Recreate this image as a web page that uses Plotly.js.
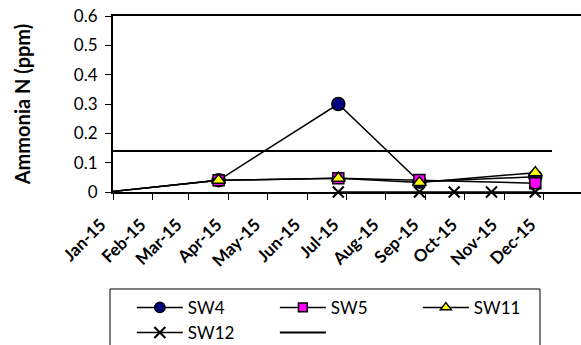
<!DOCTYPE html>
<html><head><meta charset="utf-8">
<script src="https://cdn.plot.ly/plotly-3.0.1.min.js"></script>
<style>html,body{margin:0;padding:0;overflow:hidden;background:#fff}</style>
</head><body><div id="chart" style="width:581px;height:345px"></div>
<script>
// Data
const dates_main = ['2015-01-01', '2015-03-24', '2015-06-25', '2015-08-27', '2015-11-25'];
const sw4 = [0.002, 0.04, 0.30, 0.035, 0.052];
const sw5 = [0.002, 0.04, 0.047, 0.041, 0.03];
const sw11 = [0.002, 0.04, 0.047, 0.032, 0.066];
const dates_sw12 = ['2015-06-25', '2015-08-27', '2015-09-23', '2015-10-22', '2015-11-25'];
const sw12 = [0, 0, 0, 0, 0];
const dates_limit = ['2015-01-01', '2015-12-08'];
const limit = [0.14, 0.14];
const tickDates = ['2015-01-01','2015-02-01','2015-03-01','2015-04-01','2015-05-01','2015-06-01','2015-07-01','2015-08-01','2015-09-01','2015-10-01','2015-11-01','2015-12-01'];
const tickLabels = ['Jan-15','Feb-15','Mar-15','Apr-15','May-15','Jun-15','Jul-15','Aug-15','Sep-15','Oct-15','Nov-15','Dec-15'];

const F = 'Lato, "Open Sans", sans-serif';
const firstHidden = (n, s) => Array.from({length: n}, (_, i) => i === 0 ? 0 : s);

const traces = [
  {x: dates_main, y: sw4, name: 'SW4', mode: 'lines+markers', cliponaxis: false,
   line: {color: '#000', width: 1.5},
   marker: {symbol: 'circle', size: firstHidden(5, 13), color: '#000080', opacity: 1, line: {color: '#000', width: 1.5}}},
  {x: dates_main, y: sw5, name: 'SW5', mode: 'lines+markers', cliponaxis: false,
   line: {color: '#000', width: 1.5},
   marker: {symbol: 'square', size: firstHidden(5, 11), color: '#FF00FF', opacity: 1, line: {color: '#000', width: 1.5}}},
  {x: dates_main, y: sw11, name: 'SW11', mode: 'lines+markers', cliponaxis: false,
   line: {color: '#000', width: 1.5},
   marker: {symbol: 'triangle-up', size: firstHidden(5, 12), color: '#FFFF00', opacity: 1, line: {color: '#000', width: 1.5}}},
  {x: dates_sw12, y: sw12, name: 'SW12', mode: 'lines+markers', cliponaxis: false,
   line: {color: '#000', width: 1.5},
   marker: {symbol: 'x-thin', size: 11, color: '#000', opacity: 1, line: {color: '#000', width: 2}}},
  {x: dates_limit, y: limit, name: ' ', mode: 'lines',
   line: {color: '#000', width: 2}}
];

const layout = {
  width: 581, height: 345,
  margin: {l: 113, r: 0, t: 16, b: 153, pad: 0, autoexpand: false},
  paper_bgcolor: '#fff', plot_bgcolor: '#fff',
  font: {family: F, size: 17, color: '#000'},
  showlegend: true,
  xaxis: {
    type: 'date', range: ['2015-01-01', '2015-12-30 12:00'], automargin: false,
    tickvals: tickDates, ticktext: tickLabels, tickangle: -45,
    tickfont: {family: F, size: 17, color: '#000', weight: 'bold'},
    ticklabelshift: -12, ticklabelstandoff: 8,
    ticks: 'outside', ticklen: 6, tickwidth: 1, tickcolor: '#000',
    showline: true, linecolor: '#000', linewidth: 2, mirror: true,
    showgrid: false, zeroline: false
  },
  yaxis: {
    range: [0, 0.6], automargin: false, tickvals: [0, 0.1, 0.2, 0.3, 0.4, 0.5, 0.6],
    ticktext: ['0', '0.1', '0.2', '0.3', '0.4', '0.5', '0.6'],
    tickfont: {family: F, size: 17, color: '#000'},
    ticklabelstandoff: 4,
    ticks: 'outside', ticklen: 6, tickwidth: 1, tickcolor: '#000',
    showline: true, linecolor: '#000', linewidth: 2,
    showgrid: false, zeroline: false,
    title: {text: 'Ammonia N (ppm)', font: {family: F, size: 20, color: '#000', weight: 'bold'}, standoff: 38}
  },
  shapes: [
    {type: 'rect', xref: 'paper', yref: 'paper', x0: -0.0064, x1: 0.9124, y0: -0.5511, y1: -1.2,
     line: {color: '#000', width: 1}, fillcolor: 'rgba(0,0,0,0)', layer: 'above'}
  ],
  legend: {
    orientation: 'h', x: 0.0403, y: -0.556, xanchor: 'left', yanchor: 'top',
    borderwidth: 0, bgcolor: 'rgba(0,0,0,0)',
    entrywidth: 82, entrywidthmode: 'pixels', itemwidth: 46,
    font: {family: F, size: 17, color: '#000'}, traceorder: 'normal'
  }
};

Plotly.newPlot('chart', traces, layout, {staticPlot: true, displayModeBar: false});
</script></body></html>
